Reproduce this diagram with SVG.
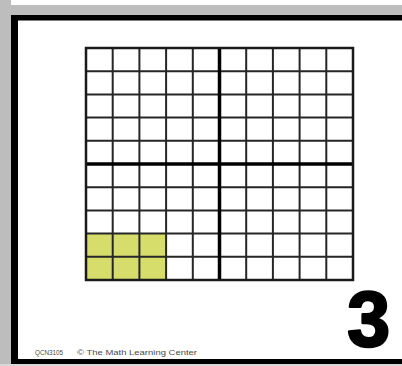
<svg xmlns="http://www.w3.org/2000/svg" width="402" height="366" viewBox="0 0 402 366">
<style>
.thin{stroke:#262626;stroke-width:2;fill:none}
.thick{stroke:#000;stroke-width:3.5;fill:none}
.outer{stroke:#1a1a1a;stroke-width:2.5;fill:none}
.foot{font-family:"Liberation Sans",Arial,sans-serif;font-size:7px;fill:#4a4a4a}
</style>
<rect x="0" y="0" width="402" height="366" fill="#ffffff"/>
<rect x="0" y="5" width="402" height="10" fill="#bdbdbd"/>
<rect x="0" y="0" width="11" height="366" fill="#bdbdbd"/>
<rect x="0" y="364" width="402" height="2" fill="#d8d8d8"/>
<g id="frame">
<rect x="11" y="15" width="391" height="5.5" fill="#000"/>
<rect x="11" y="15" width="7" height="349" fill="#000"/>
<rect x="11" y="359" width="391" height="5" fill="#000"/>
</g>
<g id="grid">
<rect x="86" y="233.6" width="80.1" height="46.4" fill="#d6dd6b"/>
<path class="thin" d="M112.7 48V280M139.4 48V280M166.1 48V280M192.8 48V280M246.2 48V280M272.9 48V280M299.6 48V280M326.3 48V280M86 71.2H353M86 94.4H353M86 117.6H353M86 140.8H353M86 187.2H353M86 210.4H353M86 233.6H353M86 256.8H353"/>
<path class="thick" d="M219.5 48V280M86 164H353"/>
<rect class="outer" x="86" y="48" width="267" height="232"/>
</g>
<text x="390" y="346" text-anchor="end" font-family="'Liberation Sans',Arial,sans-serif" font-weight="bold" font-size="77" fill="#000" stroke="#000" stroke-width="2.5" stroke-linejoin="round">3</text>
<text class="foot" x="35" y="355" textLength="28" lengthAdjust="spacingAndGlyphs">QCN3105</text>
<text class="foot" x="77" y="355" textLength="120" lengthAdjust="spacingAndGlyphs">© The Math Learning Center</text>
</svg>
